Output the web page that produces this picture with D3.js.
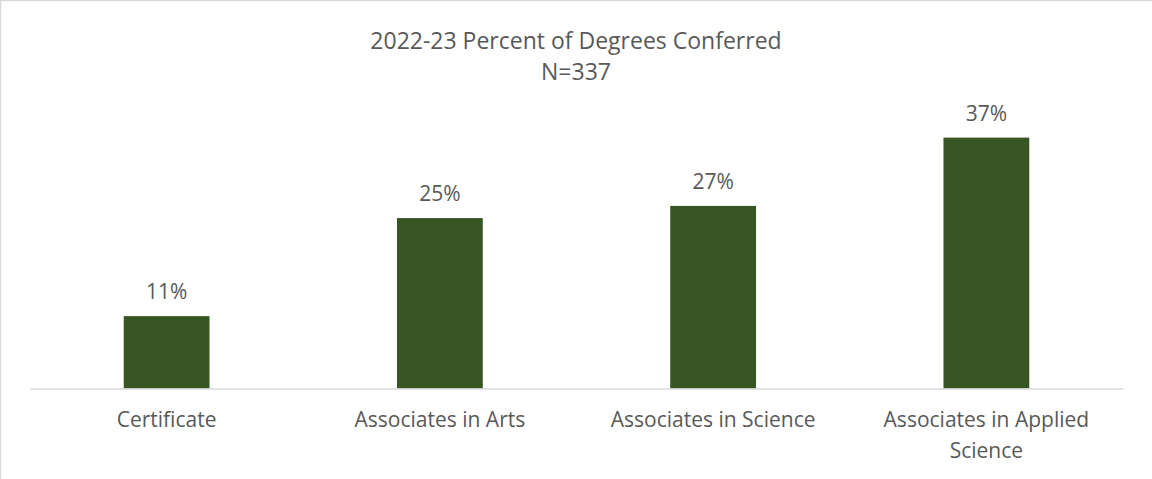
<!DOCTYPE html>
<html>
<head>
<meta charset="utf-8">
<script src="https://cdn.jsdelivr.net/npm/d3@7"></script>
<style>
  body { margin: 0; background: #fff; }
  text { font-family: "Open Sans", sans-serif; fill: #595959; }
</style>
</head>
<body>
<div id="chart"></div>
<script>
// chart data
var titleLines = ["2022-23 Percent of Degrees Conferred", "N=337"];
var categories = [["Certificate"], ["Associates in Arts"], ["Associates in Science"], ["Associates in Applied", "Science"]];
var percents = [10.7, 25.2, 27.0, 37.1];
var valueLabels = ["11%", "25%", "27%", "37%"];

var width = 1152, height = 479;
var plotLeft = 30, plotRight = 1123, plotTop = 118, plotBottom = 388.5;

var svg = d3.select("#chart").append("svg")
  .attr("width", width)
  .attr("height", height);

// chart area border (right and bottom fall outside the picture)
svg.append("rect")
  .attr("x", 0.5).attr("y", 0.5)
  .attr("width", width + 10).attr("height", height + 10)
  .attr("fill", "none")
  .attr("stroke", "#d9d9d9")
  .attr("stroke-width", 1.5);

// title
svg.selectAll(".title")
  .data(titleLines)
  .enter().append("text")
  .attr("class", "title")
  .attr("x", width / 2)
  .attr("y", function(d, i) { return 41 + i * 31; })
  .attr("dy", "0.35em")
  .attr("text-anchor", "middle")
  .style("font-size", "23px")
  .text(function(d) { return d; });

var x = d3.scaleBand()
  .domain(d3.range(categories.length))
  .range([plotLeft, plotRight])
  .paddingInner(0.686)
  .paddingOuter(0.343);

var y = d3.scaleLinear()
  .domain([0, 40])
  .range([plotBottom, plotTop]);

// bars
svg.selectAll(".bar")
  .data(percents)
  .enter().append("rect")
  .attr("class", "bar")
  .attr("x", function(d, i) { return x(i); })
  .attr("y", function(d) { return y(d); })
  .attr("width", x.bandwidth())
  .attr("height", function(d) { return y(0) - y(d); })
  .attr("fill", "#375623");

// value labels
svg.selectAll(".val")
  .data(percents)
  .enter().append("text")
  .attr("class", "val")
  .attr("x", function(d, i) { return x(i) + x.bandwidth() / 2; })
  .attr("y", function(d) { return y(d) - 24; })
  .attr("dy", "0.35em")
  .attr("text-anchor", "middle")
  .style("font-size", "21px")
  .text(function(d, i) { return valueLabels[i]; });

// category axis
var xAxis = svg.append("g")
  .attr("transform", "translate(0," + plotBottom + ")")
  .call(d3.axisBottom(x).tickSize(0).tickFormat(""));
xAxis.select(".domain")
  .attr("stroke", "#d9d9d9")
  .attr("stroke-width", 1.5);

var cat = svg.selectAll(".cat")
  .data(categories)
  .enter().append("text")
  .attr("class", "cat")
  .attr("text-anchor", "middle")
  .style("font-size", "21px");

cat.selectAll("tspan")
  .data(function(d, i) { return d.map(function(line) { return { line: line, i: i }; }); })
  .enter().append("tspan")
  .attr("x", function(d) { return x(d.i) + x.bandwidth() / 2; })
  .attr("y", function(d, j) { return 420 + j * 31; })
  .attr("dy", "0.35em")
  .text(function(d) { return d.line; });
</script>
</body>
</html>
